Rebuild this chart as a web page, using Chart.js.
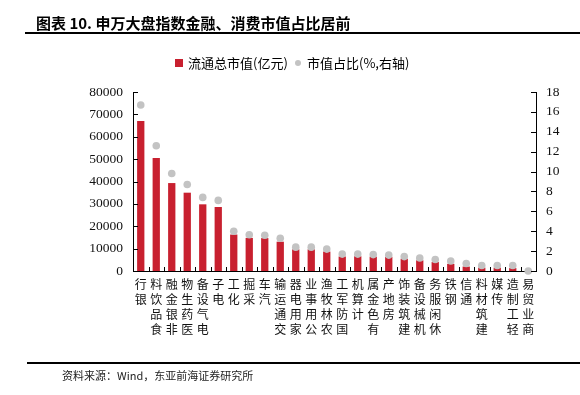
<!DOCTYPE html>
<html>
<head>
<meta charset="utf-8">
<script src="https://cdn.jsdelivr.net/npm/chart.js@4/dist/chart.umd.min.js"></script>
<style>
  html, body { margin: 0; padding: 0; background: #ffffff; }
  #wrap { position: relative; width: 580px; height: 395px; overflow: hidden; background: #fff; }
  #c { position: absolute; left: 0; top: 0; }
  .txt { position: absolute; white-space: nowrap; color: #000; }
  #title { left: 36px; top: 13px; font: bold 15px "Noto Sans CJK SC", sans-serif; line-height: 20px; }
  #rule1 { position: absolute; left: 25px; top: 32px; width: 555px; height: 2px; background: #000; }
  #rule2 { position: absolute; left: 27px; top: 362px; width: 553px; height: 1.5px; background: #000; }
  #source { left: 62px; top: 368px; font: 11px "Noto Sans CJK SC", sans-serif; line-height: 15px; color: #222; }
  #legend { position: absolute; left: 175px; top: 55px; height: 16px; font: 13px "Noto Sans CJK SC", sans-serif; line-height: 16px; color: #222; }
  .sq { position: absolute; left: 0; top: 4px; width: 8px; height: 8px; background: #c8202f; }
  .dot { position: absolute; left: 120px; top: 5px; width: 6px; height: 6px; border-radius: 50%; background: #c3c3c3; }
  .l1 { position: absolute; left: 13px; top: 0; }
  .l2 { position: absolute; left: 132px; top: 0; }
</style>
</head>
<body>
<div id="wrap">
  <canvas id="c" width="580" height="395"></canvas>
  <div id="title" class="txt">图表 10. 申万大盘指数金融、消费市值占比居前</div>
  <div id="rule1"></div>
  <div id="legend">
    <span class="sq"></span><span class="txt l1">流通总市值(亿元)</span>
    <span class="dot"></span><span class="txt l2">市值占比(%,右轴)</span>
  </div>
  <div id="rule2"></div>
  <div id="source" class="txt">资料来源：Wind，东亚前海证券研究所</div>
</div>
<script>
// ---- data ----
const categories = ["银行","食品饮料","非银金融","医药生物","电气设备","电子","化工","采掘","汽车","交通运输","家用电器","公用事业","农林牧渔","国防军工","计算机","有色金属","房地产","建筑装饰","机械设备","休闲服务","钢铁","通信","建筑材料","传媒","轻工制造","商业贸易"];
const marketCap = [67000, 50500, 39300, 35000, 29800, 28600, 16300, 14800, 14700, 13100, 9700, 9700, 8700, 6500, 6600, 6400, 6300, 5500, 4800, 4000, 3200, 2000, 1500, 1500, 1300, 0];
const sharePct = [16.7, 12.6, 9.8, 8.7, 7.4, 7.1, 4.0, 3.65, 3.6, 3.3, 2.4, 2.4, 2.2, 1.7, 1.7, 1.65, 1.6, 1.45, 1.3, 1.15, 1.0, 0.75, 0.55, 0.55, 0.55, 0];
const leftTicks = { min: 0, max: 80000, step: 10000 };
const rightTicks = { min: 0, max: 18, step: 2 };

// vertical stacked labels reading bottom-to-top
const verticalLabels = categories.map(s => Array.from(s).reverse());

const innerTicks = {
  id: 'innerTicks',
  afterDraw(chart) {
    const ctx = chart.ctx;
    const { left, right, bottom } = chart.chartArea;
    const y = chart.scales.y, y1 = chart.scales.y1, x = chart.scales.x;
    ctx.save();
    ctx.strokeStyle = '#000';
    ctx.lineWidth = 1;
    ctx.beginPath();
    y.ticks.forEach((t, i) => {
      const p = Math.round(y.getPixelForTick(i)) + 0.5;
      ctx.moveTo(left, p); ctx.lineTo(left + 5, p);
    });
    y1.ticks.forEach((t, i) => {
      const p = Math.round(y1.getPixelForTick(i)) + 0.5;
      ctx.moveTo(right - 5, p); ctx.lineTo(right, p);
    });
    for (let k = 1; k < categories.length; k++) {
      const p = Math.round((x.getPixelForTick(k - 1) + x.getPixelForTick(k)) / 2) + 0.5;
      ctx.moveTo(p, bottom); ctx.lineTo(p, bottom - 4);
    }
    ctx.stroke();
    ctx.restore();
  }
};

new Chart(document.getElementById('c'), {
  data: {
    labels: verticalLabels,
    datasets: [
      {
        type: 'line',
        label: '市值占比(%,右轴)',
        data: sharePct,
        yAxisID: 'y1',
        showLine: false,
        pointRadius: 3.8,
        pointBackgroundColor: '#c3c3c3',
        pointBorderWidth: 0,
        borderColor: '#c3c3c3',
        clip: false,
        order: 0
      },
      {
        type: 'bar',
        label: '流通总市值(亿元)',
        data: marketCap,
        yAxisID: 'y',
        backgroundColor: '#c8202f',
        barPercentage: 0.47,
        categoryPercentage: 1.0,
        order: 1
      }
    ]
  },
  options: {
    responsive: false,
    animation: false,
    devicePixelRatio: 1,
    layout: { padding: { top: 92, left: 0, right: 0, bottom: 0 } },
    plugins: { legend: { display: false }, tooltip: { enabled: false } },
    scales: {
      x: {
        offset: true,
        grid: { display: false, drawTicks: false },
        border: { display: true, color: '#000', width: 1 },
        ticks: {
          autoSkip: false, maxRotation: 0, minRotation: 0, padding: 6,
          color: '#111',
          font: { family: '"Noto Sans CJK SC", sans-serif', size: 12, lineHeight: 1.25 }
        },
        afterFit(s) { s.height = 124; }
      },
      y: {
        position: 'left',
        min: leftTicks.min, max: leftTicks.max,
        grid: { display: false, drawTicks: false },
        border: { display: true, color: '#000', width: 1 },
        ticks: {
          stepSize: leftTicks.step, padding: 10, color: '#111',
          callback: v => String(v),
          font: { family: '"Liberation Serif", serif', size: 13.5 }
        },
        afterFit(s) { s.width = 133; }
      },
      y1: {
        position: 'right',
        min: rightTicks.min, max: rightTicks.max,
        grid: { display: false, drawTicks: false },
        border: { display: true, color: '#000', width: 1 },
        ticks: {
          stepSize: rightTicks.step, padding: 10, color: '#111',
          callback: v => String(v),
          font: { family: '"Liberation Serif", serif', size: 13.5 }
        },
        afterFit(s) { s.width = 44; }
      }
    }
  },
  plugins: [innerTicks]
});
</script>
</body>
</html>
